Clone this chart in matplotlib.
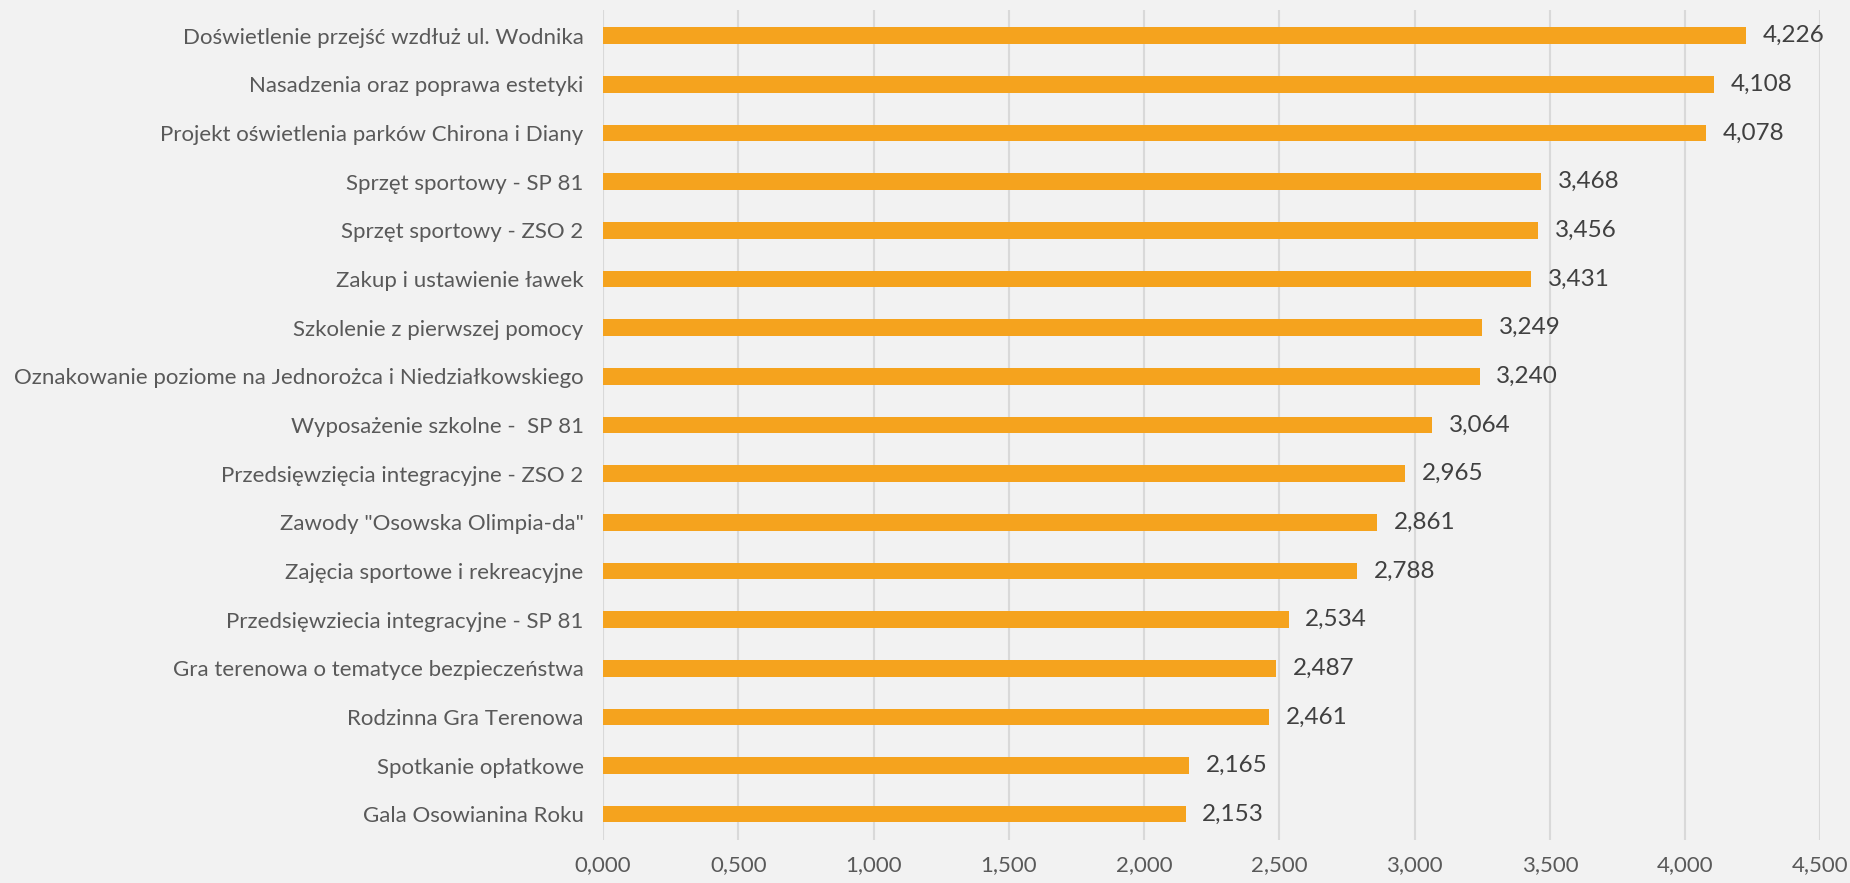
import numpy as np
import matplotlib.pyplot as plt

# project names and scores (top to bottom)
projects = [
    "Doświetlenie przejść wzdłuż ul. Wodnika",
    "Nasadzenia oraz poprawa estetyki",
    "Projekt oświetlenia parków Chirona i Diany",
    "Sprzęt sportowy - SP 81",
    "Sprzęt sportowy - ZSO 2",
    "Zakup i ustawienie ławek",
    "Szkolenie z pierwszej pomocy",
    "Oznakowanie poziome na Jednorożca i Niedziałkowskiego",
    "Wyposażenie szkolne -  SP 81",
    "Przedsięwzięcia integracyjne - ZSO 2",
    "Zawody \"Osowska Olimpia-da\"",
    "Zajęcia sportowe i rekreacyjne",
    "Przedsięwziecia integracyjne - SP 81",
    "Gra terenowa o tematyce bezpieczeństwa",
    "Rodzinna Gra Terenowa",
    "Spotkanie opłatkowe",
    "Gala Osowianina Roku",
]
scores = [4.226, 4.108, 4.078, 3.468, 3.456, 3.431, 3.249, 3.240, 3.064,
          2.965, 2.861, 2.788, 2.534, 2.487, 2.461, 2.165, 2.153]
xticks = [0, 0.5, 1.0, 1.5, 2.0, 2.5, 3.0, 3.5, 4.0, 4.5]

bg = '#f2f2f2'
txt = '#595959'
plt.rcParams['font.family'] = ['Lato', 'DejaVu Sans']

fig = plt.figure(figsize=(18.5, 8.83), dpi=100, facecolor=bg)
ax = fig.add_axes([0.326, 0.0487, 0.658, 0.94])
ax.set_facecolor(bg)

y = np.arange(len(projects))
ax.barh(y, scores, height=0.34, color='#f5a31e', zorder=3)
for yi, v in zip(y, scores):
    ax.annotate(f"{v:.3f}".replace('.', ','), (v, yi), xytext=(12, 0),
                textcoords='offset points', va='center', ha='left',
                fontsize=17.5, color='#404040')

ax.set_yticks(y)
ax.set_yticklabels(projects, fontsize=16, color=txt)
ax.set_ylim(len(projects) - 0.47, -0.53)
ax.set_xlim(0, 4.5)
ax.set_xticks(xticks)
ax.set_xticklabels([f"{t:.3f}".replace('.', ',') for t in xticks],
                   fontsize=16, color=txt)
ax.tick_params(length=0)
ax.tick_params(axis='y', pad=14)
ax.tick_params(axis='x', pad=11)
ax.xaxis.grid(True, color='#d9d9d9', linewidth=1.5, zorder=0)
for s in ax.spines.values():
    s.set_visible(False)

plt.savefig('out.png', dpi=100, facecolor=bg)
